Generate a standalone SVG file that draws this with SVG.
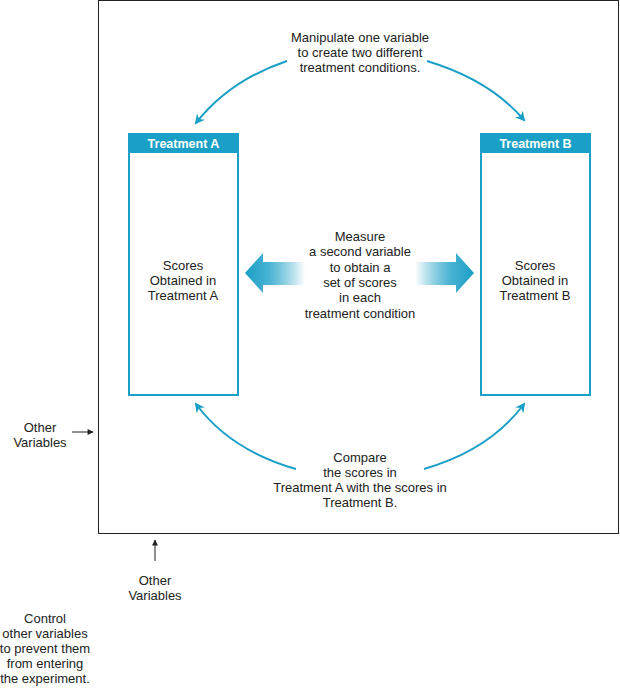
<svg xmlns="http://www.w3.org/2000/svg" width="620" height="691" viewBox="0 0 620 691">
<defs>
<style>
text{font-family:"Liberation Sans",Arial,sans-serif;font-size:13px;fill:#222;text-anchor:middle}
.hd{fill:#fff;font-weight:bold;font-size:12.5px}
.tb{fill:#fff;stroke:#1a9fc6;stroke-width:2}
.cv{fill:none;stroke:#1a9fc6;stroke-width:2}
.bk{fill:none;stroke:#222;stroke-width:1}
</style>
<marker id="ah" viewBox="0 0 10 10" refX="8" refY="5" markerWidth="11" markerHeight="10" orient="auto" markerUnits="userSpaceOnUse">
<path d="M0,0 L10,5 L0,10 L3,5 z" fill="#1a9fc6"/>
</marker>
<marker id="ak" viewBox="0 0 10 10" refX="9" refY="5" markerWidth="7" markerHeight="6" orient="auto" markerUnits="userSpaceOnUse">
<path d="M0,0 L10,5 L0,10 z" fill="#222"/>
</marker>
<linearGradient id="gl" x1="245" y1="0" x2="305" y2="0" gradientUnits="userSpaceOnUse">
<stop offset="0" stop-color="#1a9fc6"/><stop offset="0.4" stop-color="#4ab3d3"/><stop offset="1" stop-color="#1a9fc6" stop-opacity="0"/>
</linearGradient>
<linearGradient id="gr" x1="415" y1="0" x2="474" y2="0" gradientUnits="userSpaceOnUse">
<stop offset="0" stop-color="#1a9fc6" stop-opacity="0"/><stop offset="0.6" stop-color="#4ab3d3"/><stop offset="1" stop-color="#1a9fc6"/>
</linearGradient>
</defs>
<rect width="620" height="691" fill="#fff"/>
<g id="experiment">
<rect x="98.5" y="0.5" width="520" height="533" fill="none" stroke="#222" stroke-width="1"/>
</g>
<g id="treatmentA">
<rect class="tb" x="129" y="134" width="109" height="261"/>
<rect x="128" y="133" width="111" height="20" fill="#1a9fc6"/>
<text class="hd" x="183.5" y="148">Treatment A</text>
<text x="183" y="270">Scores</text>
<text x="183" y="285">Obtained in</text>
<text x="183" y="300">Treatment A</text>
</g>
<g id="treatmentB">
<rect class="tb" x="481" y="134" width="109" height="261"/>
<rect x="480" y="133" width="111" height="20" fill="#1a9fc6"/>
<text class="hd" x="535.5" y="148">Treatment B</text>
<text x="535" y="270">Scores</text>
<text x="535" y="285">Obtained in</text>
<text x="535" y="300">Treatment B</text>
</g>
<g id="manipulate">
<text x="360" y="42">Manipulate one variable</text>
<text x="360" y="57">to create two different</text>
<text x="360" y="72">treatment conditions.</text>
</g>
<g id="measure">
<text x="360" y="241">Measure</text>
<text x="360" y="256">a second variable</text>
<text x="360" y="272">to obtain a</text>
<text x="360" y="287">set of scores</text>
<text x="360" y="302">in each</text>
<text x="360" y="318">treatment condition</text>
</g>
<g id="compare">
<text x="360" y="462">Compare</text>
<text x="360" y="477">the scores in</text>
<text x="360" y="492">Treatment A with the scores in</text>
<text x="360" y="507">Treatment B.</text>
</g>
<g id="otherLeft">
<text x="40" y="432">Other</text>
<text x="40" y="447">Variables</text>
</g>
<g id="otherBottom">
<text x="155" y="585">Other</text>
<text x="155" y="600">Variables</text>
</g>
<g id="control">
<text x="45" y="623">Control</text>
<text x="45" y="638">other variables</text>
<text x="45" y="653">to prevent them</text>
<text x="45" y="668">from entering</text>
<text x="45" y="683">the experiment.</text>
</g>
<g id="connectors">
<path class="cv" d="M287,61 Q230,80 196,123" marker-end="url(#ah)"/>
<path class="cv" d="M427,61 Q490,80 524,120" marker-end="url(#ah)"/>
<path class="cv" d="M296,469 Q230,450 196,404" marker-end="url(#ah)"/>
<path class="cv" d="M424,469 Q490,450 524,404" marker-end="url(#ah)"/>
<path d="M245,273 L263,253 L263,262 L305,262 L305,285 L263,285 L263,293 z" fill="url(#gl)"/>
<path d="M474,273 L456,253 L456,262 L415,262 L415,285 L456,285 L456,293 z" fill="url(#gr)"/>
<path class="bk" d="M72,432 L93,432" marker-end="url(#ak)"/>
<path class="bk" d="M155,561 L155,540" marker-end="url(#ak)"/>
</g>
</svg>
